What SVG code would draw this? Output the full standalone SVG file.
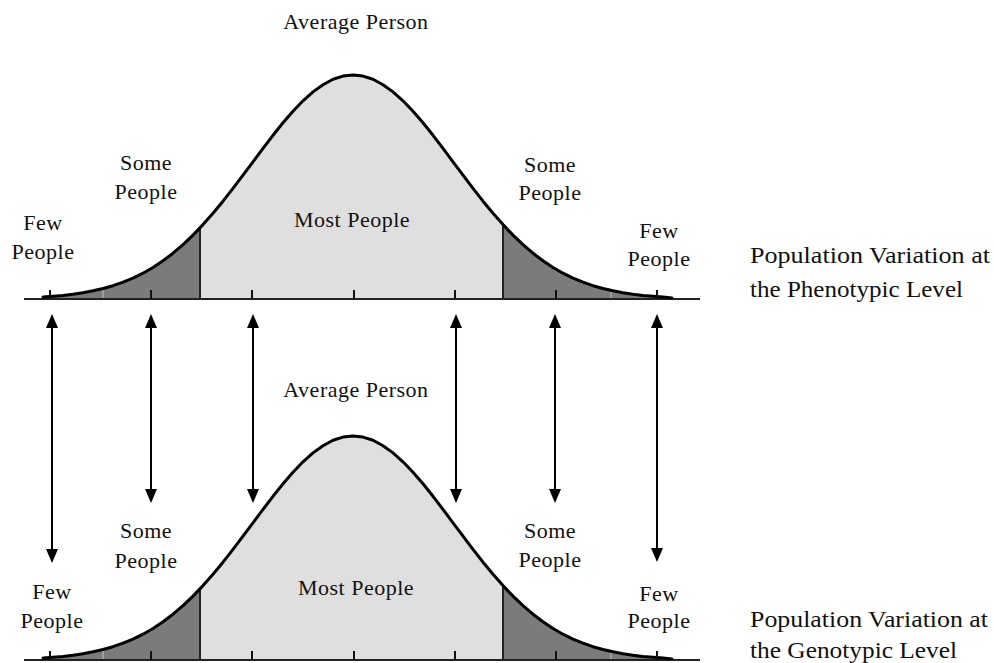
<svg xmlns="http://www.w3.org/2000/svg" width="994" height="663" viewBox="0 0 994 663">
<defs>
<style>
.lbl{font-family:"Liberation Serif","Times New Roman",serif;font-size:22px;letter-spacing:0.5px;fill:#111;text-anchor:middle}
.side{font-family:"Liberation Serif","Times New Roman",serif;font-size:23px;fill:#111}
.dark{fill:#7b7b7b}
.light{fill:#dfdfdf}
.curve{fill:none;stroke:#000;stroke-width:3;stroke-linejoin:round;stroke-linecap:round}
.base{stroke:#222;stroke-width:2}
.bound{stroke:#222;stroke-width:2}
.tick{stroke:#111;stroke-width:2}
.grid{stroke:#a8a8a8;stroke-width:1.5}
.arrow{stroke:#000;stroke-width:2;fill:none}
</style>
<marker id="ah" viewBox="0 0 14 12" refX="10" refY="6" markerWidth="14" markerHeight="12" markerUnits="userSpaceOnUse" orient="auto-start-reverse">
<path d="M0,0 L14,6 L0,12 Z" fill="#000"/>
</marker>
<clipPath id="under">
<path d="M43,297 L53,296.3 L63,295.4 L73,294.2 L83,292.7 L93,290.8 L103,288.5 L113,285.7 L123,282.2 L133,278.1 L143,273.2 L153,267.5 L163,260.8 L173,253.2 L183,244.7 L193,235.1 L203,224.6 L213,213.3 L223,201.2 L233,188.4 L243,175.2 L253,161.8 L263,148.4 L273,135.3 L283,122.8 L293,111.2 L303,100.8 L313,91.9 L323,84.7 L333,79.3 L343,76.1 L353,75 L363,76.1 L373,79.3 L383,84.7 L393,91.9 L403,100.8 L413,111.2 L423,122.8 L433,135.3 L443,148.4 L453,161.8 L463,175.2 L473,188.4 L483,201.2 L493,213.3 L503,224.6 L513,235.1 L523,244.7 L533,253.2 L543,260.8 L553,267.5 L563,273.2 L573,278.1 L583,282.2 L593,285.7 L603,288.5 L613,290.8 L623,292.7 L633,294.2 L643,295.4 L653,296.3 L663,297 L672,298 L672,299 L43,299 Z"/>
</clipPath>
<g id="dist">
<g clip-path="url(#under)">
<rect x="0" y="60" width="200" height="240" class="dark"/>
<rect x="200" y="60" width="303" height="240" class="light"/>
<rect x="503" y="60" width="200" height="240" class="dark"/>
<line x1="103" y1="299" x2="103" y2="286" class="grid"/>
<line x1="611" y1="299" x2="611" y2="289" class="grid"/>
</g>
<line x1="200" y1="299" x2="200" y2="227.5" class="bound"/>
<line x1="503" y1="299" x2="503" y2="224.6" class="bound"/>
<line x1="24" y1="299" x2="700" y2="299" class="base"/>
<path class="curve" d="M43,297 L53,296.3 L63,295.4 L73,294.2 L83,292.7 L93,290.8 L103,288.5 L113,285.7 L123,282.2 L133,278.1 L143,273.2 L153,267.5 L163,260.8 L173,253.2 L183,244.7 L193,235.1 L203,224.6 L213,213.3 L223,201.2 L233,188.4 L243,175.2 L253,161.8 L263,148.4 L273,135.3 L283,122.8 L293,111.2 L303,100.8 L313,91.9 L323,84.7 L333,79.3 L343,76.1 L353,75 L363,76.1 L373,79.3 L383,84.7 L393,91.9 L403,100.8 L413,111.2 L423,122.8 L433,135.3 L443,148.4 L453,161.8 L463,175.2 L473,188.4 L483,201.2 L493,213.3 L503,224.6 L513,235.1 L523,244.7 L533,253.2 L543,260.8 L553,267.5 L563,273.2 L573,278.1 L583,282.2 L593,285.7 L603,288.5 L613,290.8 L623,292.7 L633,294.2 L643,295.4 L653,296.3 L663,297 L672,298"/>
<g class="tick">
<line x1="50" y1="290" x2="50" y2="299"/>
<line x1="151" y1="290" x2="151" y2="299"/>
<line x1="252" y1="290" x2="252" y2="299"/>
<line x1="354" y1="290" x2="354" y2="299"/>
<line x1="455" y1="290" x2="455" y2="299"/>
<line x1="556" y1="290" x2="556" y2="299"/>
<line x1="657" y1="290" x2="657" y2="299"/>
</g>
</g>
</defs>

<g id="phenotypic-curve"><use href="#dist"/></g>
<g id="genotypic-curve"><use href="#dist" transform="translate(0,361)"/></g>

<g id="connectors">
<line class="arrow" x1="52" y1="318" x2="52" y2="559" marker-start="url(#ah)" marker-end="url(#ah)"/>
<line class="arrow" x1="151" y1="318" x2="151" y2="499" marker-start="url(#ah)" marker-end="url(#ah)"/>
<line class="arrow" x1="253" y1="318" x2="253" y2="499" marker-start="url(#ah)" marker-end="url(#ah)"/>
<line class="arrow" x1="456" y1="318" x2="456" y2="499" marker-start="url(#ah)" marker-end="url(#ah)"/>
<line class="arrow" x1="555" y1="318" x2="555" y2="499" marker-start="url(#ah)" marker-end="url(#ah)"/>
<line class="arrow" x1="657" y1="318" x2="657" y2="558" marker-start="url(#ah)" marker-end="url(#ah)"/>
</g>

<g id="top-labels">
<text class="lbl" x="356" y="29">Average Person</text>
<text class="lbl" x="146" y="170">Some</text>
<text class="lbl" x="146" y="199">People</text>
<text class="lbl" x="43" y="230">Few</text>
<text class="lbl" x="43" y="259">People</text>
<text class="lbl" x="352" y="227">Most People</text>
<text class="lbl" x="550" y="172">Some</text>
<text class="lbl" x="550" y="200">People</text>
<text class="lbl" x="659" y="238">Few</text>
<text class="lbl" x="659" y="266">People</text>
</g>
<g id="phenotypic-title">
<text class="side" x="750" y="263" textLength="240" lengthAdjust="spacingAndGlyphs">Population Variation at</text>
<text class="side" x="750" y="297" textLength="213" lengthAdjust="spacingAndGlyphs">the Phenotypic Level</text>
</g>

<g id="bottom-labels">
<text class="lbl" x="356" y="397">Average Person</text>
<text class="lbl" x="146" y="538">Some</text>
<text class="lbl" x="146" y="568">People</text>
<text class="lbl" x="52" y="599">Few</text>
<text class="lbl" x="52" y="628">People</text>
<text class="lbl" x="356" y="595">Most People</text>
<text class="lbl" x="550" y="538">Some</text>
<text class="lbl" x="550" y="567">People</text>
<text class="lbl" x="659" y="601">Few</text>
<text class="lbl" x="659" y="628">People</text>
</g>
<g id="genotypic-title">
<text class="side" x="750" y="627" textLength="238" lengthAdjust="spacingAndGlyphs">Population Variation at</text>
<text class="side" x="750" y="658" textLength="207" lengthAdjust="spacingAndGlyphs">the Genotypic Level</text>
</g>
</svg>
